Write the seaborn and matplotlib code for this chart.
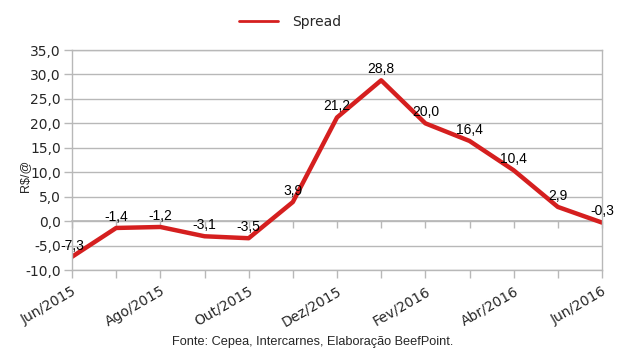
import numpy as np
import pandas as pd
import matplotlib
matplotlib.use("Agg")
import matplotlib.pyplot as plt
import seaborn as sns

meses = ["Jun/2015", "Jul/2015", "Ago/2015", "Set/2015", "Out/2015", "Nov/2015",
         "Dez/2015", "Jan/2016", "Fev/2016", "Mar/2016", "Abr/2016", "Mai/2016",
         "Jun/2016"]
spread = [-7.3, -1.4, -1.2, -3.1, -3.5, 3.9, 21.2, 28.8, 20.0, 16.4, 10.4, 2.9, -0.3]
yticks = [-10, -5, 0, 5, 10, 15, 20, 25, 30, 35]

df = pd.DataFrame({"pos": np.arange(len(meses)), "mes": meses, "Spread": spread})

sns.set_theme(style="white")
plt.rcParams["font.family"] = ["DejaVu Sans"]

fig = plt.figure(figsize=(6.24, 3.52), dpi=100)
ax = fig.add_axes([72 / 624, 1 - 270 / 352, 530 / 624, 220 / 352])

red = "#d51f1f"
sns.lineplot(data=df, x="pos", y="Spread", ax=ax, color=red, linewidth=3.2,
             label="Spread", legend=False)

# rótulos dos pontos
for x, y in zip(df["pos"], df["Spread"]):
    ax.annotate(f"{y:.1f}".replace(".", ","), (x, y), xytext=(0, 3),
                textcoords="offset points", ha="center", va="bottom",
                fontsize=10, family="Liberation Sans", color="black")

ax.set_xlim(0, len(meses) - 1)
ax.set_ylim(-10, 35)
ax.set_yticks(yticks)
ax.set_yticklabels([f"{v:.1f}".replace(".", ",") for v in yticks], fontsize=10)
ax.set_xticks(df["pos"])
ax.set_xticklabels([m if i % 2 == 0 else "" for i, m in enumerate(meses)],
                   rotation=30, ha="right", rotation_mode="anchor", fontsize=10)

ax.grid(axis="y", color="#b8b8b8", linewidth=1)
ax.set_axisbelow(True)
for side in ["left", "right", "bottom", "top"]:
    ax.spines[side].set_color("#b8b8b8")
    ax.spines[side].set_linewidth(1)
ax.tick_params(axis="both", direction="out", length=6, width=1, color="#b8b8b8",
               left=True, bottom=True, pad=2)
ax.tick_params(axis="x", pad=4)

# eixo x cruzando o zero
sec = ax.secondary_xaxis(10 / 45)
sec.set_xticks(df["pos"])
sec.set_xticklabels([])
sec.spines["bottom"].set_color("#b8b8b8")
sec.tick_params(direction="out", length=5, width=1, color="#b8b8b8")

ax.set_xlabel("")
ax.set_ylabel("")
fig.text(25 / 624, 1 - 176 / 352, "R$/@", rotation=90, ha="center", va="center",
         fontsize=9, family="Liberation Sans")

handle = plt.Line2D([], [], color=red, linewidth=2)
fig.legend([handle], ["Spread"], loc="center", bbox_to_anchor=(290 / 624, 1 - 22 / 352),
           frameon=False, fontsize=10, handlelength=2.8, handletextpad=1.0)

fig.text(313 / 624, 1 - 342 / 352, "Fonte: Cepea, Intercarnes, Elaboração BeefPoint.",
         ha="center", va="center", fontsize=9.2, family="Liberation Sans")

fig.savefig("out.png", dpi=100, facecolor="white")
